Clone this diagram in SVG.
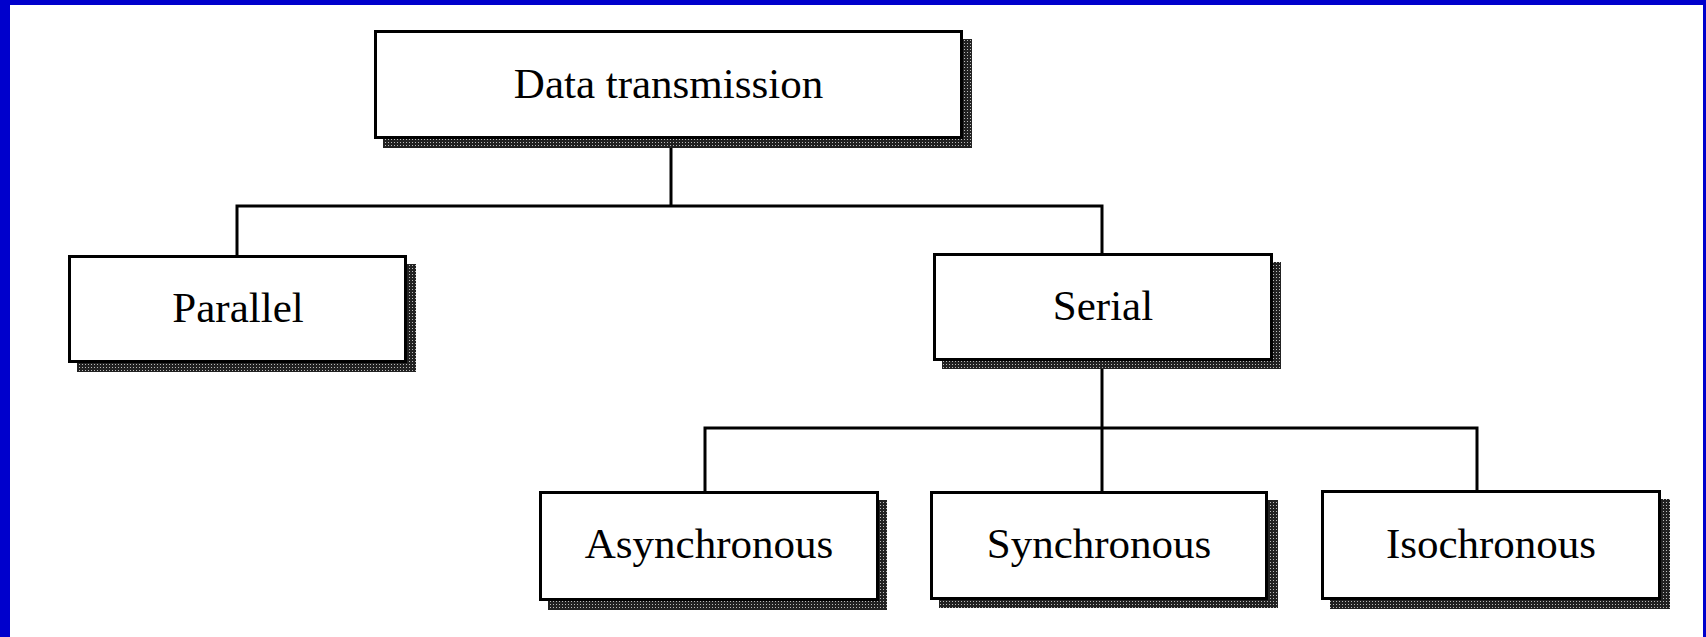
<svg xmlns="http://www.w3.org/2000/svg" width="1706" height="637" viewBox="0 0 1706 637">
  <style>
    .box { fill: #ffffff; stroke: #000000; stroke-width: 3; }
    .shadow { fill: url(#halftone); }
    .label { font-family: "Liberation Serif", "Times New Roman", serif; font-size: 43px; fill: #000000; text-anchor: middle; }
    .wire { fill: none; stroke: #000000; stroke-width: 3; stroke-linejoin: miter; }
    .frame { fill: #0000cc; }
  </style>
  <defs>
    <!-- dotted dark screen used for the drop shadows -->
    <pattern id="halftone" width="3" height="3" patternUnits="userSpaceOnUse">
      <rect width="3" height="3" fill="#222222"/>
      <rect x="1" y="1" width="1" height="1" fill="#bbbbbb"/>
    </pattern>
  </defs>

  <!-- page background and blue frame -->
  <rect width="1706" height="637" fill="#ffffff"/>
  <rect class="frame" x="0" y="0" width="1706" height="5"/>
  <rect class="frame" x="0" y="0" width="10" height="637"/>
  <rect class="frame" x="1703" y="0" width="3" height="637"/>

  <!-- connectors -->
  <g id="connectors">
    <path class="wire" d="M671,139 V206"/>
    <path class="wire" d="M237,255 V206 H1102 V253"/>
    <path class="wire" d="M1102,361 V491"/>
    <path class="wire" d="M705,491 V428 H1477 V490"/>
  </g>

  <g id="data-transmission">
    <rect class="shadow" x="383" y="39" width="589" height="109"/>
    <rect class="box" x="375.5" y="31.5" width="586" height="106"/>
    <text class="label" x="668.5" y="98">Data transmission</text>
  </g>

  <g id="parallel">
    <rect class="shadow" x="77" y="264" width="339" height="108"/>
    <rect class="box" x="69.5" y="256.5" width="336" height="105"/>
    <text class="label" x="238" y="322">Parallel</text>
  </g>

  <g id="serial">
    <rect class="shadow" x="942" y="262" width="339" height="107"/>
    <rect class="box" x="934.5" y="254.5" width="337" height="105"/>
    <text class="label" x="1103" y="320">Serial</text>
  </g>

  <g id="asynchronous">
    <rect class="shadow" x="548" y="500" width="339" height="110"/>
    <rect class="box" x="540.5" y="492.5" width="337" height="107"/>
    <text class="label" x="709" y="558">Asynchronous</text>
  </g>

  <g id="synchronous">
    <rect class="shadow" x="939" y="500" width="339" height="108"/>
    <rect class="box" x="931.5" y="492.5" width="335" height="106"/>
    <text class="label" x="1099" y="558">Synchronous</text>
  </g>

  <g id="isochronous">
    <rect class="shadow" x="1330" y="499" width="340" height="110"/>
    <rect class="box" x="1322.5" y="491.5" width="337" height="107"/>
    <text class="label" x="1491" y="558">Isochronous</text>
  </g>
</svg>
